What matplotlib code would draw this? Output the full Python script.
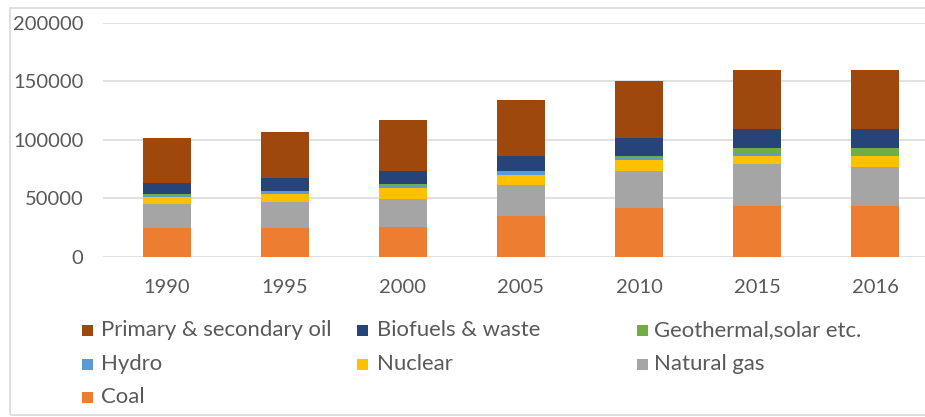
import matplotlib
matplotlib.use("Agg")
import matplotlib.pyplot as plt
from matplotlib.patches import Rectangle
import numpy as np

plt.rcParams['font.family'] = ['Lato', 'DejaVu Sans']

years = ["1990", "1995", "2000", "2005", "2010", "2015", "2016"]

# Stacked from the bottom up
coal       = [24500, 24500, 25900, 35100, 41600, 43600, 43600]
natural_gas = [20500, 22800, 23700, 26500, 32200, 35800, 33600]
nuclear    = [6000, 6300, 9700, 8500, 9100, 7000, 8600]
hydro      = [2000, 1800, 2300, 2700, 2500, 1500, 1200]
geothermal = [500, 500, 600, 1000, 1000, 5000, 5900]
biofuels   = [10000, 11900, 11600, 12600, 15100, 16300, 16300]
oil        = [38000, 38800, 43100, 47800, 48400, 50700, 50700]

series_names = ["Coal", "Natural gas", "Nuclear", "Hydro",
                "Geothermal,solar etc.", "Biofuels & waste",
                "Primary & secondary oil"]
series_values = [coal, natural_gas, nuclear, hydro, geothermal, biofuels, oil]
series_colors = ["#ED7D31", "#A5A5A5", "#FFC000", "#5B9BD5",
                 "#70AD47", "#264478", "#9E480E"]

W, H = 925, 417
fig = plt.figure(figsize=(W / 100, H / 100), dpi=100)
fig.patch.set_facecolor("white")

def fx(px):
    return px / W

def fy(py):
    return 1 - py / H

# chart border
fig.add_artist(Rectangle((fx(10), fy(415)), fx(940) - fx(10), fy(8) - fy(415),
                         transform=fig.transFigure, fill=False,
                         edgecolor="#D9D9D9", linewidth=1.2))

slot = 118.0
ax_left, ax_right = 103, 934
x_lo = -0.5 - (167 - slot / 2 - ax_left) / slot
x_hi = x_lo + (ax_right - ax_left) / slot
ax = fig.add_axes([fx(ax_left), fy(257), fx(ax_right) - fx(ax_left), fy(22.6) - fy(257)])

x = np.arange(len(years))
bottom = np.zeros(len(years))
for vals, col in zip(series_values, series_colors):
    ax.bar(x, vals, width=0.41, bottom=bottom, color=col, zorder=3)
    bottom += np.array(vals)

ax.set_xlim(x_lo, x_hi)
ax.set_ylim(0, 200000)
ax.set_yticks(np.arange(0, 200001, 50000))
ax.set_yticklabels([str(v) for v in range(0, 200001, 50000)])
ax.set_xticks(x)
ax.set_xticklabels(years)
ax.grid(axis="y", color="#D9D9D9", linewidth=1.1, zorder=0)
for s in ax.spines.values():
    s.set_visible(False)
ax.tick_params(axis="both", length=0, labelsize=14.5, labelcolor="#595959")
ax.tick_params(axis="y", pad=14)
ax.tick_params(axis="x", pad=16)

# legend laid out in rows, three entries per row
legend_order = ["Primary & secondary oil", "Biofuels & waste", "Geothermal,solar etc.",
                "Hydro", "Nuclear", "Natural gas", "Coal"]
col_marker_x = [82, 357, 637]
col_text_x = [101, 377, 654]
row_y = [330, 364, 397]
sq = 11
for i, name in enumerate(legend_order):
    r, c = divmod(i, 3)
    color = series_colors[series_names.index(name)]
    fig.add_artist(Rectangle((fx(col_marker_x[c]), fy(row_y[r] + sq / 2)),
                             fx(sq), sq / H, transform=fig.transFigure,
                             facecolor=color, edgecolor="none"))
    fig.text(fx(col_text_x[c]), fy(row_y[r]), name, fontsize=15.9,
             color="#595959", va="center", ha="left")

fig.savefig("out.png", dpi=100, facecolor="white")
